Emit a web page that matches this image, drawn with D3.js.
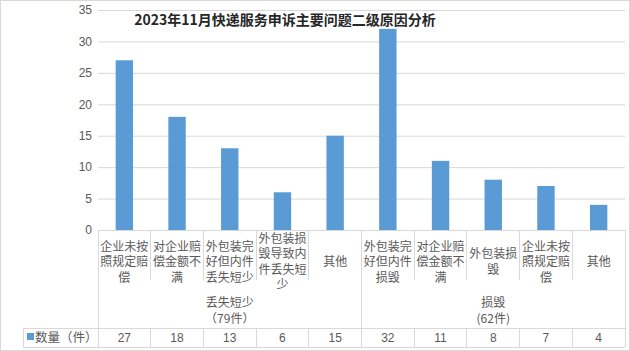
<!DOCTYPE html>
<html>
<head>
<meta charset="utf-8">
<script src="https://cdn.jsdelivr.net/npm/d3@7"></script>
<style>
    body { margin: 0; background: #fff; }
    svg text { font-family: "Noto Sans CJK SC", "Noto Sans", sans-serif; }
</style>
</head>
<body>
<div id="chart"></div>
<script>
//
// 2023年11月 complaint chart: multi-level category column chart with data table
//

var title = "2023年11月快递服务申诉主要问题二级原因分析";
var categories = ["企业未按照规定赔偿", "对企业赔偿金额不满", "外包装完好但内件丢失短少", "外包装损毁导致内件丢失短少", "其他",
                  "外包装完好但内件损毁", "对企业赔偿金额不满", "外包装损毁", "企业未按照规定赔偿", "其他"];
var groups = [
    { name: "丢失短少", sub: "（79件）", size: 5 },
    { name: "损毁", sub: "(62件)", size: 5 }
];
var values = [27, 18, 13, 6, 15, 32, 11, 8, 7, 4];
var seriesName = "数量（件）";
var yTicks = [0, 5, 10, 15, 20, 25, 30, 35];

var width = 630, height = 351;
var plotLeft = 98, plotRight = 625, plotTop = 10, plotBottom = 230;
var catBottom = 280;   // bottom of the first label level
var tableTop = 328, tableBottom = 347, tableLeft = 23;
var barColor = "#5b9bd5";
var lineColor = "#d9d9d9";
var textColor = "#595959";

var svg = d3.select("#chart")
    .append("svg")
    .attr("width", width)
    .attr("height", height);

// outer chart border
svg.append("rect")
    .attr("x", 0.5).attr("y", 0.5)
    .attr("width", width - 1).attr("height", height - 1)
    .attr("fill", "#fff")
    .attr("stroke", lineColor);

var idx = d3.range(values.length);
var x = d3.scaleBand().domain(idx).range([plotLeft, plotRight]).padding(0);
var y = d3.scaleLinear().domain([0, 35]).range([plotBottom, plotTop]);

// gridlines
var grid = svg.append("g")
    .attr("transform", "translate(" + plotLeft + ",0)")
    .call(d3.axisLeft(y).tickValues(yTicks).tickSize(-(plotRight - plotLeft)).tickFormat(""));
grid.select(".domain").remove();
grid.selectAll("line").attr("stroke", lineColor);

// y-axis labels
var yAxis = svg.append("g")
    .attr("transform", "translate(" + (plotLeft - 6) + ",0)")
    .call(d3.axisLeft(y).tickValues(yTicks).tickSize(0).tickPadding(0));
yAxis.select(".domain").remove();
yAxis.selectAll("text")
    .attr("fill", textColor)
    .style("font-size", "12px")
    .style("font-family", "'Liberation Sans', Arial, sans-serif");

// bars
var barW = x.bandwidth() * 0.33;
svg.selectAll(".bar")
    .data(values)
    .enter()
    .append("rect")
    .attr("class", "bar")
    .attr("x", function (d, i) { return x(i) + (x.bandwidth() - barW) / 2; })
    .attr("y", function (d) { return y(d); })
    .attr("width", barW)
    .attr("height", function (d) { return y(0) - y(d); })
    .attr("fill", barColor);

// category axis line and table lines
var lines = svg.append("g").attr("stroke", lineColor).attr("shape-rendering", "crispEdges");
lines.append("line").attr("x1", plotLeft).attr("x2", plotRight).attr("y1", plotBottom).attr("y2", plotBottom);
lines.append("line").attr("x1", tableLeft).attr("x2", plotRight).attr("y1", tableTop).attr("y2", tableTop);
lines.append("line").attr("x1", tableLeft).attr("x2", plotRight).attr("y1", tableBottom).attr("y2", tableBottom);
lines.append("line").attr("x1", tableLeft).attr("x2", tableLeft).attr("y1", tableTop).attr("y2", tableBottom);

// vertical separators: group boundaries full height, sub-category short
var groupStarts = [0];
groups.forEach(function (g, i) { groupStarts.push(groupStarts[i] + g.size); });
d3.range(values.length + 1).forEach(function (i) {
    var xx = i < values.length ? x(i) : plotRight;
    var isGroup = groupStarts.indexOf(i) >= 0;
    lines.append("line")
        .attr("x1", xx).attr("x2", xx)
        .attr("y1", plotBottom)
        .attr("y2", isGroup ? tableBottom : catBottom);
    if (!isGroup)
        lines.append("line").attr("x1", xx).attr("x2", xx).attr("y1", tableTop).attr("y2", tableBottom);
});

// category labels (wrapped at 4 chars)
var lineH = 15.5;
var catLabels = svg.append("g");
categories.forEach(function (c, i) {
    var parts = [];
    for (var k = 0; k < c.length; k += 4) parts.push(c.slice(k, k + 4));
    var cy = 262 - (parts.length - 1) * lineH / 2;
    var t = catLabels.append("text")
        .attr("text-anchor", "middle")
        .attr("fill", textColor)
        .style("font-size", "12px");
    parts.forEach(function (p, j) {
        t.append("tspan")
            .attr("x", x(i) + x.bandwidth() / 2)
            .attr("y", cy + j * lineH)
            .attr("dy", "0.35em")
            .text(p);
    });
});

// group labels
groups.forEach(function (g, gi) {
    var x0 = x(groupStarts[gi]);
    var x1 = groupStarts[gi + 1] < values.length ? x(groupStarts[gi + 1]) : plotRight;
    var cx = (x0 + x1) / 2;
    svg.append("text")
        .attr("x", cx).attr("y", 303).attr("dy", "0.35em")
        .attr("text-anchor", "middle").attr("fill", textColor)
        .style("font-size", "12px")
        .text(g.name);
    svg.append("text")
        .attr("x", cx).attr("y", 319).attr("dy", "0.35em")
        .attr("text-anchor", "middle").attr("fill", textColor)
        .style("font-size", "12px")
        .text(g.sub);
});

// data table row
svg.append("rect")
    .attr("x", 27).attr("y", 333)
    .attr("width", 7).attr("height", 7)
    .attr("fill", barColor);
svg.append("text")
    .attr("x", 35).attr("y", 337.5).attr("dy", "0.35em")
    .attr("fill", textColor)
    .style("font-size", "12.5px")
    .text(seriesName);
svg.selectAll(".val")
    .data(values)
    .enter()
    .append("text")
    .attr("class", "val")
    .attr("x", function (d, i) { return x(i) + x.bandwidth() / 2; })
    .attr("y", 337.5)
    .attr("dy", "0.35em")
    .attr("text-anchor", "middle")
    .attr("fill", textColor)
    .style("font-size", "12px")
    .style("font-family", "'Liberation Sans', Arial, sans-serif")
    .text(function (d) { return d; });

// title
svg.append("text")
    .attr("x", 285).attr("y", 20).attr("dy", "0.35em")
    .attr("text-anchor", "middle")
    .attr("fill", "#262626")
    .style("font-size", "14px")
    .style("font-weight", "bold")
    .text(title);
</script>
</body>
</html>
